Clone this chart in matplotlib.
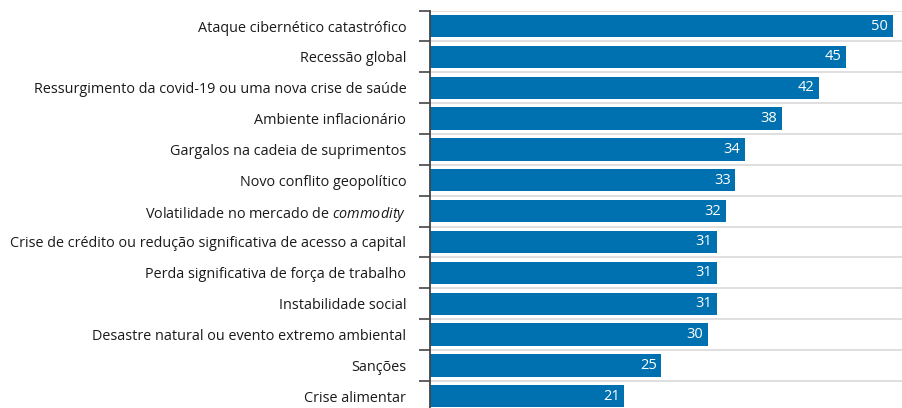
import numpy as np
import matplotlib
matplotlib.use("Agg")
import matplotlib.pyplot as plt

plt.rcParams['font.family'] = ['Open Sans', 'DejaVu Sans']
plt.rcParams['mathtext.fontset'] = 'custom'
plt.rcParams['mathtext.it'] = 'Open Sans:italic'
plt.rcParams['mathtext.rm'] = 'Open Sans'

riscos = [
    "Ataque cibernético catastrófico",
    "Recessão global",
    "Ressurgimento da covid-19 ou uma nova crise de saúde",
    "Ambiente inflacionário",
    "Gargalos na cadeia de suprimentos",
    "Novo conflito geopolítico",
    "Volatilidade no mercado de $\\mathit{commodity}$",
    "Crise de crédito ou redução significativa de acesso a capital",
    "Perda significativa de força de trabalho",
    "Instabilidade social",
    "Desastre natural ou evento extremo ambiental",
    "Sanções",
    "Crise alimentar",
]
valores = [50, 45, 42, 38, 34, 33, 32, 31, 31, 31, 30, 25, 21]

azul = "#0071b0"

fig = plt.figure(figsize=(9.02, 4.08), dpi=100)
ax = fig.add_axes([0.4767, -0.009, 0.5233, 0.983])

y = np.arange(len(riscos))
ax.barh(y, valores, height=0.72, color=azul, zorder=3)

for yi, v in zip(y, valores):
    ax.text(v - 0.5, yi, str(v), ha="right", va="center",
            color="white", fontsize=10.5, zorder=4)

n = len(riscos)
ax.set_ylim(n - 0.5, -0.5)
ax.set_xlim(0, 51)

# divisórias entre as linhas
ax.set_yticks(np.arange(-0.5, n, 1))
ax.set_yticklabels([])
ax.set_yticks(y, minor=True)
ax.set_yticklabels(riscos, minor=True, fontsize=10.4, color="#1a1a1a")
ax.tick_params(axis="y", which="major", length=8, width=1.2, color="#444444")
ax.tick_params(axis="y", which="minor", length=0, pad=17)
ax.grid(axis="y", which="major", color="#d9d9d9", linewidth=1.2, zorder=0)

ax.set_xticks([])
for s in ["top", "right", "bottom"]:
    ax.spines[s].set_visible(False)
ax.spines["left"].set_color("#444444")
ax.spines["left"].set_linewidth(1.3)
ax.spines["left"].set_zorder(5)

fig.savefig("out.png", dpi=100)
